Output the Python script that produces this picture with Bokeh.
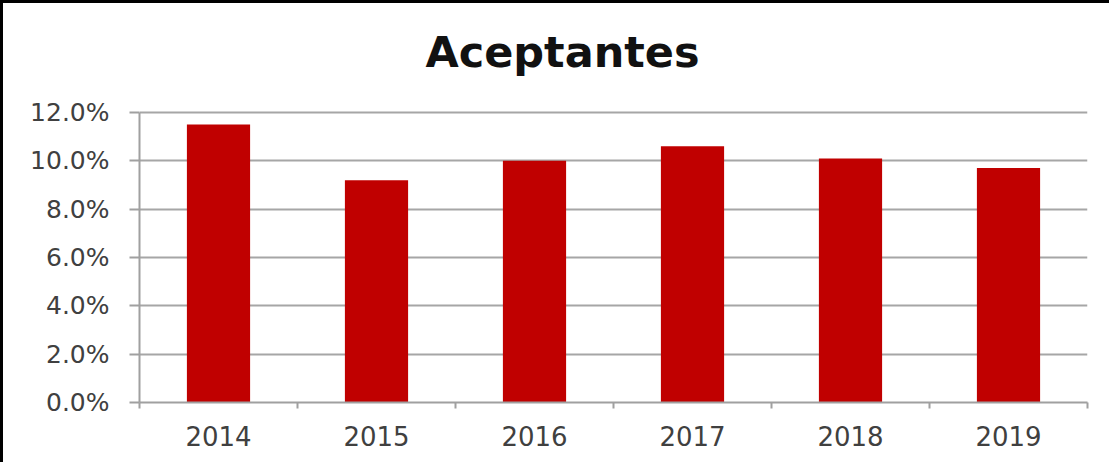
from bokeh.plotting import figure
from bokeh.models import ColumnDataSource, FixedTicker, NumeralTickFormatter, Range1d, Label
from bokeh.embed import file_html
from bokeh.resources import INLINE

title_text = "Aceptantes"
years = ["2014", "2015", "2016", "2017", "2018", "2019"]
values = [0.115, 0.092, 0.100, 0.106, 0.101, 0.097]
y_ticks = [0.0, 0.02, 0.04, 0.06, 0.08, 0.10, 0.12]

xpos = [i + 0.5 for i in range(len(years))]
src = ColumnDataSource(dict(x=xpos, top=values, year=years))

# frame extends above the 12% line to hold the title (388 px frame, 290 px for 0..12%)
y_top = y_ticks[-1] * 388 / 290

p = figure(width=1109, height=462, output_backend="svg", toolbar_location=None,
           x_range=Range1d(0, len(years)), y_range=Range1d(0, y_top),
           min_border_left=136, min_border_right=25, min_border_bottom=63,
           min_border_top=11)
p.styles = {"border-top": "3px solid black", "border-left": "3px solid black",
            "box-sizing": "border-box"}

p.vbar(x="x", top="top", width=0.4, source=src, fill_color="#C00000", line_color=None)

title = Label(x=423, y=351, x_units="screen", y_units="screen", text=title_text,
              text_font="DejaVu Sans", text_font_style="bold", text_font_size="43px",
              text_color="#111111", text_align="center", text_baseline="alphabetic")
p.add_layout(title)

p.outline_line_color = None
p.xgrid.grid_line_color = None
p.ygrid.ticker = FixedTicker(ticks=y_ticks)
p.ygrid.grid_line_color = "#A6A6A6"
p.ygrid.grid_line_width = 2

p.yaxis.ticker = FixedTicker(ticks=y_ticks)
p.yaxis.bounds = (y_ticks[0], y_ticks[-1])
p.yaxis.formatter = NumeralTickFormatter(format="0.0%")
p.yaxis.axis_line_color = "#A0A0A0"
p.yaxis.axis_line_width = 2
p.yaxis.major_tick_line_color = "#A0A0A0"
p.yaxis.major_tick_line_width = 2
p.yaxis.major_tick_out = 10
p.yaxis.major_tick_in = 0
p.yaxis.minor_tick_line_color = None
p.yaxis.major_label_text_font = "DejaVu Sans"
p.yaxis.major_label_text_font_size = "25px"
p.yaxis.major_label_text_color = "#404040"
p.yaxis.major_label_standoff = 20

p.xaxis.ticker = FixedTicker(ticks=xpos, minor_ticks=list(range(len(years) + 1)))
p.xaxis.major_label_overrides = {x: y for x, y in zip(xpos, years)}
p.xaxis.axis_line_color = "#A0A0A0"
p.xaxis.axis_line_width = 2
p.xaxis.major_tick_line_color = None
p.xaxis.major_tick_out = 0
p.xaxis.major_tick_in = 0
p.xaxis.minor_tick_line_color = "#A0A0A0"
p.xaxis.minor_tick_line_width = 2
p.xaxis.minor_tick_out = 6
p.xaxis.minor_tick_in = 0
p.xaxis.major_label_text_font = "DejaVu Sans"
p.xaxis.major_label_text_font_size = "26px"
p.xaxis.major_label_text_color = "#404040"
p.xaxis.major_label_standoff = 17

open("out.html", "w").write(file_html(p, INLINE))
